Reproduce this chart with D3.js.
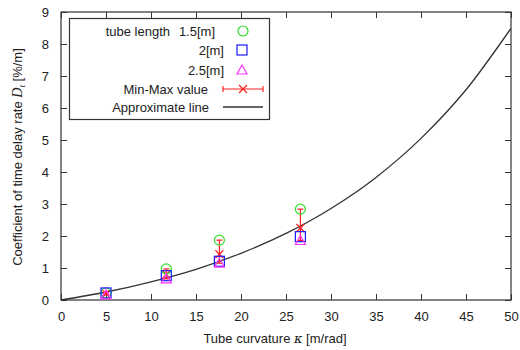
<!DOCTYPE html>
<html>
<head>
<meta charset="utf-8">
<script src="https://cdn.jsdelivr.net/npm/d3@7"></script>
<style>
  body { margin: 0; background: #fff; }
  text { font-family: 'Liberation Sans', Arial, sans-serif; }
</style>
</head>
<body>
<div id="chart"></div>
<script>
// measured points (curvature, rate)
const kappa = [5, 11.7, 17.6, 26.6];
const len15 = [0.22, 0.97, 1.87, 2.84];
const len20 = [0.22, 0.76, 1.21, 1.98];
const len25 = [0.16, 0.66, 1.15, 1.86];
const meanVal = [0.2, 0.8, 1.43, 2.25];

// approximate line
const lineK = [0, 5, 10, 15, 20, 25, 30, 35, 40, 45, 50];
const lineD = [0, 0.25, 0.57, 0.96, 1.46, 2.08, 2.86, 3.83, 5.05, 6.57, 8.49];

const xTicks = [0, 5, 10, 15, 20, 25, 30, 35, 40, 45, 50];
const yTicks = [0, 1, 2, 3, 4, 5, 6, 7, 8, 9];

const margin = { top: 12, right: 9, bottom: 50, left: 61 };
const totalW = 520, totalH = 350;
const W = totalW - margin.left - margin.right;
const H = totalH - margin.top - margin.bottom;

const svg = d3.select('#chart').append('svg')
  .attr('width', totalW).attr('height', totalH);
const g = svg.append('g').attr('transform', `translate(${margin.left},${margin.top})`);

const x = d3.scaleLinear().domain([0, 50]).range([0, W]);
const y = d3.scaleLinear().domain([0, 9]).range([H, 0]);

const axisCol = '#333';
const fs = '13px';

// axes with inward ticks on all four sides
const styleAxis = (sel) => {
  sel.select('.domain').remove();
  sel.selectAll('line').attr('stroke', axisCol);
  sel.selectAll('text').attr('fill', '#222').attr('font-size', fs);
};
g.append('g').attr('transform', `translate(0,${H})`)
  .call(d3.axisBottom(x).tickValues(xTicks).tickSizeInner(-6).tickSizeOuter(0).tickPadding(12))
  .call(styleAxis);
g.append('g')
  .call(d3.axisTop(x).tickValues(xTicks).tickSizeInner(-6).tickSizeOuter(0).tickFormat(''))
  .call(styleAxis);
g.append('g')
  .call(d3.axisLeft(y).tickValues(yTicks).tickSizeInner(-6).tickSizeOuter(0).tickPadding(12))
  .call(styleAxis);
g.append('g').attr('transform', `translate(${W},0)`)
  .call(d3.axisRight(y).tickValues(yTicks).tickSizeInner(-6).tickSizeOuter(0).tickFormat(''))
  .call(styleAxis);

// frame
g.append('rect').attr('width', W).attr('height', H)
  .attr('fill', 'none').attr('stroke', axisCol).attr('stroke-width', 1.2);

// approximate line
const line = d3.line().x((d, i) => x(lineK[i])).y(d => y(d)).curve(d3.curveMonotoneX);
g.append('path').datum(lineD)
  .attr('fill', 'none').attr('stroke', '#333').attr('stroke-width', 1.3)
  .attr('d', line);

const green = '#2ee02e', blue = '#1a1aff', magenta = '#ff33ff', red = '#ff2020';

// markers
const circle = (sel, cx, cy) => sel.append('circle').attr('cx', cx).attr('cy', cy).attr('r', 5)
  .attr('fill', 'none').attr('stroke', green).attr('stroke-width', 1.2);
const square = (sel, cx, cy) => sel.append('rect').attr('x', cx - 5).attr('y', cy - 5)
  .attr('width', 10).attr('height', 10)
  .attr('fill', 'none').attr('stroke', blue).attr('stroke-width', 1.2);
const triangle = (sel, cx, cy) => sel.append('path')
  .attr('d', `M${cx},${cy - 5}L${cx + 5},${cy + 4}L${cx - 5},${cy + 4}Z`)
  .attr('fill', 'none').attr('stroke', magenta).attr('stroke-width', 1.2);
const cross = (sel, cx, cy) => sel.append('path')
  .attr('d', `M${cx - 4},${cy - 4}L${cx + 4},${cy + 4}M${cx - 4},${cy + 4}L${cx + 4},${cy - 4}`)
  .attr('stroke', red).attr('stroke-width', 1.2);

kappa.forEach((k, i) => {
  const cx = x(k);
  const lo = Math.min(len15[i], len20[i], len25[i]);
  const hi = Math.max(len15[i], len20[i], len25[i]);
  g.append('line').attr('x1', cx).attr('x2', cx).attr('y1', y(lo)).attr('y2', y(hi))
    .attr('stroke', red).attr('stroke-width', 1.2);
  [lo, hi].forEach(v => g.append('line').attr('x1', cx - 3).attr('x2', cx + 3)
    .attr('y1', y(v)).attr('y2', y(v)).attr('stroke', red).attr('stroke-width', 1.2));
  cross(g, cx, y(meanVal[i]));
  circle(g, cx, y(len15[i]));
  square(g, cx, y(len20[i]));
  triangle(g, cx, y(len25[i]));
});

// legend
const lg = svg.append('g');
lg.append('rect').attr('x', 69.5).attr('y', 18.5).attr('width', 200).attr('height', 101)
  .attr('fill', '#fff').attr('stroke', axisCol).attr('stroke-width', 1.2);
const legendLabels = ['1.5[m]', '2[m]', '2.5[m]', 'Min-Max value', 'Approximate line'];
const rowY = [31, 50, 70, 89, 107];
const endX = [215, 224, 224, 208, 209];
legendLabels.forEach((t, i) => {
  lg.append('text').attr('x', endX[i]).attr('y', rowY[i]).attr('dy', '0.35em')
    .attr('text-anchor', 'end').attr('font-size', fs).attr('fill', '#222').text(t);
});
lg.append('text').attr('x', 170).attr('y', rowY[0]).attr('dy', '0.35em')
  .attr('text-anchor', 'end').attr('font-size', fs).attr('fill', '#222').text('tube length');
circle(lg, 243, rowY[0]);
square(lg, 242, rowY[1]);
triangle(lg, 242, rowY[2]);
lg.append('line').attr('x1', 223).attr('x2', 263).attr('y1', rowY[3]).attr('y2', rowY[3])
  .attr('stroke', red).attr('stroke-width', 1.2);
[223, 263].forEach(cx => lg.append('line').attr('x1', cx).attr('x2', cx)
  .attr('y1', rowY[3] - 3).attr('y2', rowY[3] + 3).attr('stroke', red).attr('stroke-width', 1.2));
cross(lg, 243, rowY[3]);
lg.append('line').attr('x1', 223).attr('x2', 263).attr('y1', rowY[4]).attr('y2', rowY[4])
  .attr('stroke', '#333').attr('stroke-width', 1.3);

// axis titles
const xt = svg.append('text').attr('x', 275).attr('y', 343).attr('text-anchor', 'middle')
  .attr('font-size', fs).attr('fill', '#222');
xt.append('tspan').text('Tube curvature ');
xt.append('tspan').attr('font-style', 'italic').attr('font-family', "'DejaVu Serif', serif").text('κ');
xt.append('tspan').text(' [m/rad]');

const yt = svg.append('text').attr('transform', 'translate(22,157) rotate(-90)')
  .attr('text-anchor', 'middle').attr('font-size', fs).attr('fill', '#222');
yt.append('tspan').text('Coefficient of time delay rate  ');
yt.append('tspan').attr('font-style', 'italic').attr('font-family', "'Liberation Serif', serif").attr('font-size', '14px').text('D');
yt.append('tspan').attr('font-style', 'italic').attr('font-family', "'Liberation Serif', serif").attr('font-size', '9px').attr('dy', '3').text('t');
yt.append('tspan').attr('dy', '-3').text('  [%/m]');
</script>
</body>
</html>
